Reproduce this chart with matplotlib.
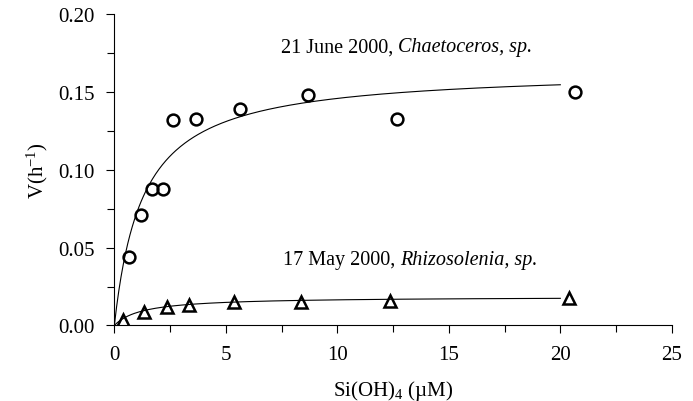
import numpy as np
import matplotlib
matplotlib.use("Agg")
import matplotlib.pyplot as plt

plt.rcParams['font.family'] = ['Liberation Serif', 'DejaVu Serif']
plt.rcParams['mathtext.fontset'] = 'custom'
plt.rcParams['mathtext.rm'] = 'Liberation Serif'
plt.rcParams['mathtext.it'] = 'Liberation Serif:italic'

# Chaetoceros, 21 June 2000 (circles)
si_june = [0.67, 1.18, 1.68, 2.17, 2.65, 3.66, 5.64, 8.67, 12.66, 20.66]
v_june = [0.044, 0.071, 0.088, 0.0877, 0.132, 0.1325, 0.139, 0.148, 0.133, 0.150]

# Rhizosolenia, 17 May 2000 (triangles)
si_may = [0.39, 1.35, 2.38, 3.36, 5.38, 8.39, 12.36, 20.38]
v_may = [0.0036, 0.0086, 0.0116, 0.013, 0.0152, 0.0152, 0.0158, 0.0176]

# Michaelis-Menten fit parameters (Vmax, Ks)
vmax_june, ks_june = 0.1646, 1.28
vmax_may, ks_may = 0.0185, 1.25

fig, ax = plt.subplots(figsize=(6.93, 4.02), dpi=100)
fig.subplots_adjust(left=0.165, right=0.9694, bottom=0.188, top=0.962)

s = np.linspace(0, 20, 400)
ax.plot(s, vmax_june * s / (ks_june + s), color='black', lw=0.8)
ax.plot(s, vmax_may * s / (ks_may + s), color='black', lw=0.8)

ax.plot(si_june, v_june, 'o', mfc='none', mec='black', mew=1.8, ms=8.5)
ax.plot(si_may, v_may, '^', mfc='none', mec='black', mew=1.8, ms=8)

# annotation labels: roman date then italic species
t1 = ax.text(7.47, 0.1762, '21 June 2000, ', fontsize=14.5, va='baseline')
ax.annotate('Chaetoceros, sp.', xy=(1, 0), xycoords=t1, fontsize=14.5,
            fontstyle='italic', va='bottom')
t2 = ax.text(7.55, 0.0392, '17 May 2000, ', fontsize=14.5, va='baseline')
ax.annotate('Rhizosolenia, sp.', xy=(1, 0), xycoords=t2, fontsize=14.5,
            fontstyle='italic', va='bottom')

ax.set_xlim(0, 25)
ax.set_ylim(0, 0.20)
ax.set_xticks([0, 5, 10, 15, 20, 25])
ax.set_xticks(np.arange(2.5, 25, 5), minor=True)
ax.set_yticks([0.0, 0.05, 0.10, 0.15, 0.20])
ax.set_yticks([0.025, 0.075, 0.125, 0.175], minor=True)
ax.set_yticklabels(['0.00', '0.05', '0.10', '0.15', '0.20'])
ax.tick_params(which='major', direction='out', length=6, width=0.8, labelsize=15, pad=8)
ax.tick_params(which='minor', direction='out', length=5, width=0.8)
ax.spines['top'].set_visible(False)
ax.spines['right'].set_visible(False)

ax.set_xlabel('Si(OH)$_4$ (\u00b5M)', fontsize=15, labelpad=10)
ax.set_ylabel('V(h$^{-1}$)', fontsize=15, labelpad=6)

fig.savefig('out.png', dpi=100)
